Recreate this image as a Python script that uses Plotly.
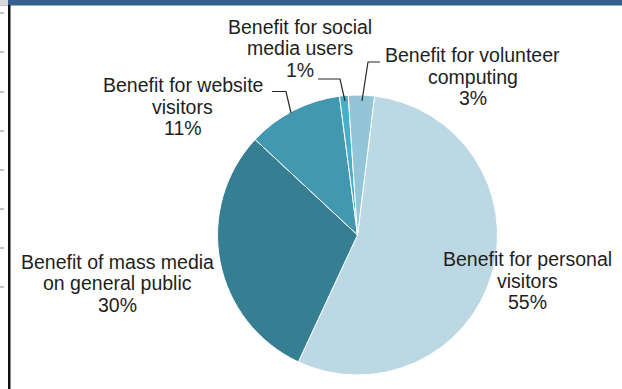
import plotly.graph_objects as go

W, H = 622, 389

# ---- data ----
labels = ["Benefit for personal visitors",
          "Benefit of mass media on general public",
          "Benefit for website visitors",
          "Benefit for social media users",
          "Benefit for volunteer computing"]
values = [55, 30, 11, 1, 3]
label_lines = [["Benefit for personal", "visitors"],
               ["Benefit of mass media", "on general public"],
               ["Benefit for website", "visitors"],
               ["Benefit for social", "media users"],
               ["Benefit for volunteer", "computing"]]
colors = ["#BCD8E3", "#367E92", "#4298B0", "#47AECB", "#92C5D7"]

# ---- layout helpers (pixel -> paper) ----
def px(x):
    return x / W

def py(y):
    return 1 - y / H

cx, cy, r = 357.5, 235, 140

fig = go.Figure(go.Pie(
    labels=labels, values=values, sort=False, direction="clockwise",
    rotation=7, textinfo="none", hoverinfo="label+percent",
    marker=dict(colors=colors, line=dict(color="white", width=1)),
    domain=dict(x=[px(cx - r), px(cx + r)], y=[py(cy + r), py(cy - r)]),
    showlegend=False,
))

# label placement (text centres, first line y), pixels
label_pos = [(527, 259), (117, 261.5), (182.5, 85), (300, 27), (473, 55)]
spacing = 21.5
font = dict(family="Liberation Sans, Arial, sans-serif", size=19.5, color="#1E1E1E")

annotations = []
for lines, v, (lx, ly) in zip(label_lines, values, label_pos):
    all_lines = lines + [f"{v}%"]
    for i, t in enumerate(all_lines):
        annotations.append(dict(
            x=px(lx), y=py(ly + i * spacing), xref="paper", yref="paper",
            text=t, showarrow=False, xanchor="center", yanchor="middle",
            font=font))

# leader lines (pixels)
leaders = [
    [(272, 91.5), (286, 91.5), (291, 113)],
    [(318, 79), (340, 79), (345, 101)],
    [(362, 101), (368, 62), (380, 62)],
]
shapes = []
for pts in leaders:
    path = "M " + " L ".join(f"{px(x):.5f},{py(y):.5f}" for x, y in pts)
    shapes.append(dict(type="path", path=path, xref="paper", yref="paper",
                       line=dict(color="#262626", width=1.2)))

# frame decorations of the screenshot
shapes.append(dict(type="rect", x0=0, x1=1, y0=py(5.5), y1=1, xref="paper", yref="paper",
                   fillcolor="#34608F", line=dict(width=0), layer="above"))
shapes.append(dict(type="rect", x0=px(8), x1=px(10.5), y0=0, y1=py(5), xref="paper", yref="paper",
                   fillcolor="#111111", line=dict(width=0)))
shapes.append(dict(type="rect", x0=0, x1=px(8), y0=py(5.5), y1=1, xref="paper", yref="paper",
                   fillcolor="#DADADA", line=dict(width=0), layer="above"))
for ty in [13, 52, 92, 131, 170, 209, 248, 287]:
    shapes.append(dict(type="line", x0=0, x1=px(4), y0=py(ty), y1=py(ty),
                       xref="paper", yref="paper", line=dict(color="#888888", width=1)))

fig.update_layout(
    width=W, height=H, margin=dict(l=0, r=0, t=0, b=0),
    paper_bgcolor="white", plot_bgcolor="white",
    annotations=annotations, shapes=shapes,
)

fig.write_html("out.html")
